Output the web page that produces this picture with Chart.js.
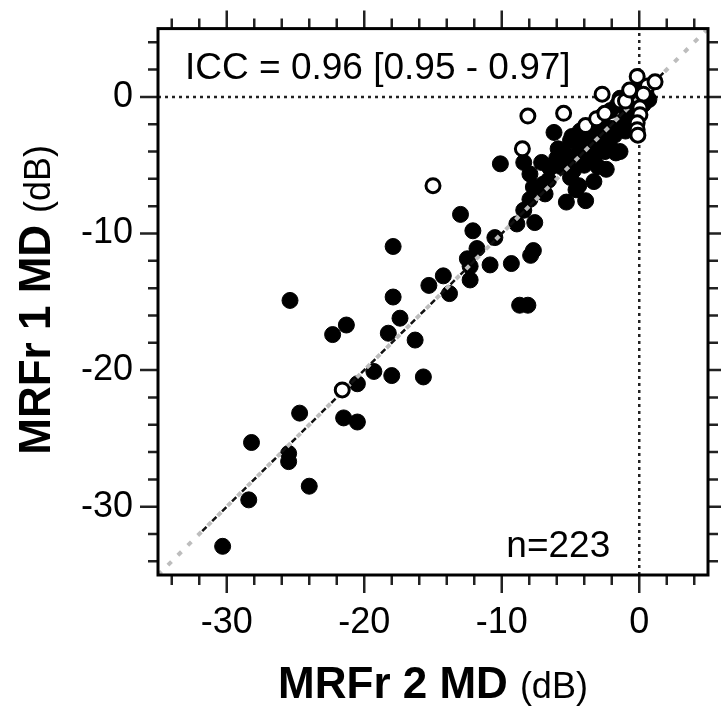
<!DOCTYPE html>
<html>
<head>
<meta charset="utf-8">
<script src="https://cdn.jsdelivr.net/npm/chart.js@4.4.1/dist/chart.umd.min.js"></script>
<style>
  html, body { margin: 0; padding: 0; background: #fff; }
  #wrap { width: 721px; height: 707px; }
</style>
</head>
<body>
<div id="wrap"><canvas id="mdChart" width="721" height="707"></canvas></div>
<script>
// MRFr 2 MD (x) against MRFr 1 MD (y), both in dB
const filledPoints = [
  [-30.3, -32.9], [-28.4, -29.5], [-28.2, -25.3], [-25.5, -26.1], [-25.5, -26.7],
  [-24.0, -28.5], [-24.7, -23.15], [-21.5, -23.5], [-20.5, -23.8], [-20.5, -21.0],
  [-19.3, -20.1], [-18.0, -20.4], [-15.7, -20.5], [-25.4, -14.9], [-22.3, -17.4],
  [-21.3, -16.7], [-18.25, -17.3], [-17.4, -16.2], [-16.3, -17.8], [-17.9, -14.65],
  [-15.3, -13.8], [-13.8, -14.4], [-14.25, -13.1], [-17.9, -10.95], [-12.3, -13.4],
  [-12.3, -12.4], [-12.5, -11.85], [-11.8, -11.1], [-10.85, -12.3], [-9.3, -12.2],
  [-7.9, -11.6], [-7.7, -11.25], [-8.7, -15.25], [-8.1, -15.25], [-13.0, -8.6],
  [-12.1, -9.8], [-10.5, -10.3], [-8.9, -9.3], [-7.6, -9.2], [-8.4, -8.3],
  [-10.1, -4.9], [-8.4, -4.8], [-7.1, -4.8], [-7.95, -5.65], [-6.6, -6.1],
  [-7.7, -6.6], [-6.85, -7.1], [-7.95, -7.5], [-7.0, -6.4], [-5.3, -7.7],
  [-3.9, -7.6], [-3.3, -6.2], [-5.9, -3.8], [-5.5, -4.0], [-5.0, -3.2],
  [-4.9, -2.9], [-4.3, -2.5], [-3.8, -3.3], [-4.1, -3.6], [-3.1, -3.5],
  [-3.6, -4.45], [-4.8, -5.4], [-5.0, -5.9], [-3.3, -4.4], [-3.0, -2.9],
  [-2.25, -2.5], [-2.1, -3.7], [-1.7, -4.1], [-2.1, -1.0], [-2.7, -1.4],
  [-1.4, -0.1], [-1.2, -1.8], [-0.7, -0.8], [-0.4, 0.2], [0.3, -0.55],
  [0.5, 0.2], [-2.1, -2.3], [-6.2, -2.6], [-4.4, -6.5], [-3.0, -5.1],
  [-6.0, -4.5], [-5.2, -4.6], [-4.5, -4.2], [-4.0, -5.0], [-2.8, -3.3],
  [-2.5, -4.0], [-1.8, -2.8], [-1.5, -2.2], [-0.9, -1.4], [-0.5, -1.6],
  [-1.0, -2.5], [-6.5, -5.2], [-5.7, -5.1], [-3.5, -2.2], [-2.9, -1.9],
  [-1.6, -0.6], [-0.9, 0.0], [0.2, 0.6], [0.7, -0.2], [-1.4, -4.0],
  [-4.6, -6.8], [-2.4, -5.3]
];
const openPoints = [
  [-21.6, -21.45], [-15.0, -6.5], [-8.5, -3.8], [-8.1, -1.4], [-5.5, -1.2],
  [-2.7, 0.2], [-3.9, -2.1], [-3.1, -1.6], [-2.5, -1.2], [-1.4, -0.3],
  [-1.0, -0.3], [-0.7, 0.5], [-0.15, 1.5], [0.6, 0.8], [1.15, 1.1],
  [0.3, 0.2], [0.05, -0.8], [0.05, -1.3], [-0.15, -1.9], [-0.15, -2.4],
  [-0.1, -2.8]
];
const axisRange = [-35, 5];
const majorTicks = [-30, -20, -10, 0];
const minorTicks = [-34, -32, -28, -26, -24, -22, -18, -16, -14, -12, -8, -6, -4, -2, 2, 4];
const fitRange = [-32, 1.8];
const iccLabel = 'ICC = 0.96 [0.95 - 0.97]';
const nLabel = 'n=223';
const xTitle = ['MRFr 2 MD', '(dB)'];
const yTitle = ['MRFr 1 MD', '(dB)'];

const FONT = '"Liberation Sans", Arial, Helvetica, sans-serif';
const toXY = arr => arr.map(p => ({ x: p[0], y: p[1] }));

function drawTitle(ctx, parts, cx, baseline) {
  ctx.font = 'bold 44px ' + FONT;
  const w1 = ctx.measureText(parts[0]).width;
  ctx.font = '36px ' + FONT;
  const w2 = ctx.measureText(parts[1]).width;
  const gap = 12;
  let x = cx - (w1 + gap + w2) / 2;
  ctx.textAlign = 'left';
  ctx.textBaseline = 'alphabetic';
  ctx.font = 'bold 44px ' + FONT;
  ctx.fillText(parts[0], x, baseline);
  ctx.font = '36px ' + FONT;
  ctx.fillText(parts[1], x + w1 + gap, baseline);
}

const framePlugin = {
  id: 'frame',
  afterDatasetsDraw(chart) {
    const { ctx, chartArea: a, scales } = chart;
    ctx.save();
    // outward tick marks on all four sides
    ctx.strokeStyle = '#222';
    ctx.lineWidth = 2.5;
    const all = majorTicks.map(v => [v, 18]).concat(minorTicks.map(v => [v, 10]));
    ctx.beginPath();
    all.forEach(([v, len]) => {
      const px = scales.x.getPixelForValue(v);
      const py = scales.y.getPixelForValue(v);
      ctx.moveTo(px, a.bottom); ctx.lineTo(px, a.bottom + len);
      ctx.moveTo(px, a.top); ctx.lineTo(px, a.top - len);
      ctx.moveTo(a.left, py); ctx.lineTo(a.left - len, py);
      ctx.moveTo(a.right, py); ctx.lineTo(a.right + len, py);
    });
    ctx.stroke();
    // box
    ctx.strokeStyle = '#000';
    ctx.lineWidth = 3;
    ctx.strokeRect(a.left, a.top, a.right - a.left, a.bottom - a.top);

    ctx.fillStyle = '#000';
    ctx.font = '37px ' + FONT;
    ctx.textAlign = 'left';
    ctx.textBaseline = 'alphabetic';
    ctx.fillText(iccLabel, a.left + 27, a.top + 50);
    ctx.textAlign = 'right';
    ctx.fillText(nLabel, scales.x.getPixelForValue(0) - 29, a.bottom - 18);

    drawTitle(ctx, xTitle, (a.left + a.right) / 2, 698);
    ctx.translate(50, (a.top + a.bottom) / 2 - 2);
    ctx.rotate(-Math.PI / 2);
    drawTitle(ctx, yTitle, 0, 0);
    ctx.restore();
  }
};

const axisOpts = (extra) => Object.assign({
  type: 'linear',
  min: axisRange[0],
  max: axisRange[1],
  afterBuildTicks: axis => { axis.ticks = majorTicks.map(v => ({ value: v })); },
  border: { display: false },
  grid: { display: true, drawOnChartArea: false, drawTicks: true, tickLength: 18,
          color: 'rgba(0,0,0,0)', tickColor: 'rgba(0,0,0,0)' },
  ticks: { color: '#000', font: { family: FONT, size: 36 }, autoSkip: false, maxRotation: 0 }
}, extra);

const scalesCfg = {
  x: axisOpts({ position: 'bottom', afterFit: s => { s.height = 132; } }),
  y: axisOpts({ position: 'left', afterFit: s => { s.width = 158; } })
};
scalesCfg.x.ticks = Object.assign({}, scalesCfg.x.ticks, { padding: 8 });
scalesCfg.y.ticks = Object.assign({}, scalesCfg.y.ticks, { padding: 7 });

new Chart(document.getElementById('mdChart').getContext('2d'), {
  type: 'scatter',
  data: {
    datasets: [
      {
        label: 'open', data: toXY(openPoints), order: 0,
        backgroundColor: '#fff', borderColor: '#000', borderWidth: 3,
        pointRadius: 7, pointHoverRadius: 7
      },
      {
        label: 'fit', data: toXY([[fitRange[0], fitRange[0]], [fitRange[1], fitRange[1]]]), order: 1,
        showLine: true, pointRadius: 0, borderColor: '#111', borderWidth: 2.5,
        borderDash: [6, 8], borderDashOffset: 9.8
      },
      {
        label: 'identity', data: toXY([[axisRange[0], axisRange[0]], [axisRange[1], axisRange[1]]]), order: 2,
        showLine: true, pointRadius: 0, borderColor: '#bdbdbd', borderWidth: 4,
        borderDash: [5, 9]
      },
      {
        label: 'filled', data: toXY(filledPoints), order: 3,
        backgroundColor: '#000', borderColor: '#000', borderWidth: 1,
        pointRadius: 8, pointHoverRadius: 8
      },
      {
        label: 'zeroH', data: toXY([[axisRange[0], 0], [axisRange[1], 0]]), order: 4,
        showLine: true, pointRadius: 0, borderColor: '#222', borderWidth: 2.5, borderDash: [3, 4]
      },
      {
        label: 'zeroV', data: toXY([[0, axisRange[0]], [0, axisRange[1]]]), order: 4,
        showLine: true, pointRadius: 0, borderColor: '#222', borderWidth: 2.5, borderDash: [3, 4]
      }
    ]
  },
  options: {
    responsive: false,
    animation: false,
    devicePixelRatio: 1,
    layout: { padding: { top: 27, right: 13, left: 0, bottom: 0 } },
    plugins: { legend: { display: false }, tooltip: { enabled: false } },
    scales: scalesCfg
  },
  plugins: [framePlugin]
});
</script>
</body>
</html>
